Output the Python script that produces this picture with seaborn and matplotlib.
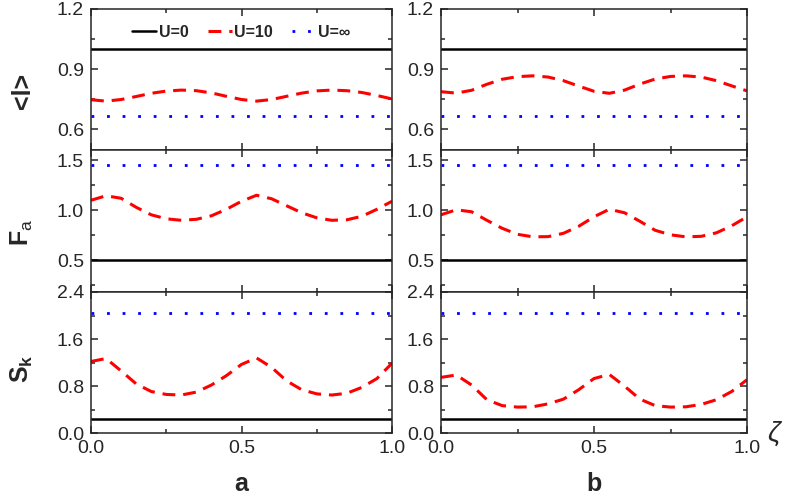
import matplotlib
matplotlib.use("Agg")
import matplotlib.pyplot as plt
import seaborn as sns
import pandas as pd
from matplotlib.ticker import MultipleLocator, FormatStrFormatter

# ---------------- data ----------------
zeta = [0.00, 0.05, 0.10, 0.15, 0.20, 0.25, 0.30, 0.35, 0.40, 0.45, 0.50,
        0.55, 0.60, 0.65, 0.70, 0.75, 0.80, 0.85, 0.90, 0.95, 1.00]

# U = 10 curves, panel a
l_a = [0.748, 0.741, 0.749, 0.764, 0.780, 0.791, 0.796, 0.793, 0.782, 0.765, 0.749,
       0.741, 0.749, 0.765, 0.781, 0.792, 0.796, 0.793, 0.784, 0.769, 0.752]
fa_a = [1.10, 1.145, 1.12, 1.03, 0.955, 0.915, 0.90, 0.91, 0.945, 1.01, 1.09,
        1.15, 1.115, 1.045, 0.975, 0.925, 0.90, 0.905, 0.94, 1.01, 1.09]
sk_a = [1.22, 1.27, 1.06, 0.84, 0.71, 0.66, 0.65, 0.70, 0.82, 0.98, 1.17,
        1.28, 1.12, 0.89, 0.74, 0.67, 0.65, 0.68, 0.78, 0.93, 1.19]

# U = 10 curves, panel b
l_b = [0.788, 0.781, 0.795, 0.825, 0.850, 0.863, 0.867, 0.861, 0.843, 0.816, 0.790,
       0.780, 0.796, 0.826, 0.851, 0.864, 0.867, 0.861, 0.843, 0.817, 0.792]
fa_b = [0.955, 1.005, 0.985, 0.90, 0.82, 0.76, 0.735, 0.737, 0.77, 0.84, 0.935,
        1.01, 0.975, 0.89, 0.80, 0.755, 0.735, 0.74, 0.775, 0.845, 0.935]
sk_b = [0.95, 0.99, 0.82, 0.57, 0.47, 0.445, 0.45, 0.50, 0.58, 0.74, 0.93,
        1.00, 0.80, 0.58, 0.47, 0.445, 0.45, 0.49, 0.57, 0.71, 0.91]

# U = 0 and U = infinity (constant in zeta)
l_u0, l_uinf = 1.0, 0.667
fa_u0, fa_uinf = 0.5, 1.45
sk_u0, sk_uinf = 0.25, 2.04

legend_labels = ["U=0", "U=10", "U=\u221e"]
panel_letters = ["a", "b"]

# ---------------- style ----------------
sns.set_style("ticks")
plt.rcParams["font.family"] = ["Liberation Sans", "DejaVu Sans"]
plt.rcParams["mathtext.fontset"] = "custom"
plt.rcParams["mathtext.rm"] = "Liberation Sans"
plt.rcParams["mathtext.bf"] = "Liberation Sans:bold"
plt.rcParams["mathtext.it"] = "Liberation Sans:italic"

W, H = 787, 496
fig = plt.figure(figsize=(W / 100, H / 100), dpi=100)

col_x = [91, 441]
col_w = [301, 306]
rows = [(9, 149.5), (149.5, 292), (292, 433.3)]

rows_data = [
    (l_a, l_b, l_u0, l_uinf, (0.5, 1.2), 0.3, 0.15, "<l>", 0.42),
    (fa_a, fa_b, fa_u0, fa_uinf, (0.184, 1.607), 0.5, 0.25, r"$\mathbf{F}_{\mathrm{a}}$", 0.42),
    (sk_a, sk_b, sk_u0, sk_uinf, (0.0, 2.4), 0.8, 0.4, r"$\mathbf{S}_{\mathbf{k}}$", 0.46),
]

red_dash = (0, (4.2, 2.6))
blue_dot = (0, (1.0, 4.6))

for r, (t, b) in enumerate(rows):
    s_a, s_b, u0, uinf, ylim, maj, mnr, ylab, ly = rows_data[r]
    for c in range(2):
        ax = fig.add_axes([col_x[c] / W, 1 - b / H, col_w[c] / W, (b - t) / H])
        series = s_a if c == 0 else s_b
        sns.lineplot(x=[zeta[0], zeta[-1]], y=[u0, u0], ax=ax, color="black",
                     lw=1.8, label=legend_labels[0])
        sns.lineplot(x=zeta, y=series, ax=ax, color="#ff0000", lw=2.2,
                     linestyle=red_dash, label=legend_labels[1])
        sns.lineplot(x=[zeta[0], zeta[-1]], y=[uinf, uinf], ax=ax, color="#0000ff",
                     lw=2.0, linestyle=blue_dot, label=legend_labels[2])
        ax.set_xlim(0, 1)
        ax.set_ylim(*ylim)
        ax.xaxis.set_major_locator(MultipleLocator(0.5))
        ax.xaxis.set_minor_locator(MultipleLocator(0.25))
        ax.yaxis.set_major_locator(MultipleLocator(maj))
        ax.yaxis.set_minor_locator(MultipleLocator(mnr))
        ax.yaxis.set_major_formatter(FormatStrFormatter("%.1f"))
        ax.xaxis.set_major_formatter(FormatStrFormatter("%.1f"))
        ax.tick_params(which="both", direction="in", top=True, right=True,
                       width=1.1, labelsize=14, pad=5)
        ax.tick_params(which="major", length=5)
        ax.tick_params(which="minor", length=3)
        for sp in ax.spines.values():
            sp.set_linewidth(1.1)
        ax.set_xlabel("")
        ax.set_ylabel("")
        if r < 2:
            ax.tick_params(labelbottom=False)
        if r == 0 and c == 0:
            ax.legend(ncol=3, loc="center", bbox_to_anchor=(0.5, 0.836),
                      frameon=False, handlelength=1.5, handletextpad=0.15,
                      columnspacing=1.2, prop={"weight": "bold", "size": 11.5})
        else:
            leg = ax.get_legend()
            if leg is not None:
                leg.remove()
        if c == 0:
            ax.set_ylabel(ylab, fontsize=18, fontweight="bold")
            ax.yaxis.set_label_coords(-0.185, ly)
        if r == 2:
            ax.text(0.5, -0.36, panel_letters[c], transform=ax.transAxes,
                    ha="center", va="center", fontsize=18, fontweight="bold")
            if c == 1:
                ax.text(1.09, 0.0, r"$\zeta$", transform=ax.transAxes,
                        ha="center", va="center", fontsize=20,
                        family="DejaVu Serif")

fig.savefig("out.png", dpi=100)
